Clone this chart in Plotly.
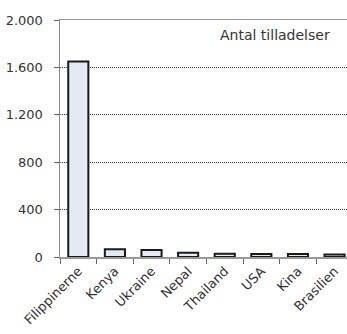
import plotly.graph_objects as go

countries = ["Filippinerne", "Kenya", "Ukraine", "Nepal", "Thailand", "USA", "Kina", "Brasilien"]
tilladelser = [1650, 65, 60, 35, 28, 26, 25, 22]
y_tickvals = [0, 400, 800, 1200, 1600, 2000]
y_ticktext = ["0", "400", "800", "1.200", "1.600", "2.000"]
legend_label = "Antal tilladelser"

FONT = "DejaVu Sans"

fig = go.Figure(
    go.Bar(
        x=countries,
        y=tilladelser,
        width=0.55,
        marker=dict(color="#E3EAF4", line=dict(color="#1a1a1a", width=2)),
        hoverinfo="skip",
    )
)

fig.add_annotation(
    text=legend_label, xref="paper", yref="paper", x=0.948, y=0.937,
    xanchor="right", yanchor="middle", showarrow=False,
    font=dict(family=FONT, size=14, color="#333333"),
)

fig.update_layout(
    width=347, height=334, autosize=False,
    margin=dict(l=60, r=0, t=20, b=77, pad=0),
    paper_bgcolor="white", plot_bgcolor="white",
    showlegend=False,
    font=dict(family=FONT, size=13, color="#333333"),
)

fig.update_xaxes(
    range=[-0.5, 7.34],
    automargin=False,
    tickangle=-45,
    tickson="boundaries",
    ticks="outside", ticklen=5, tickcolor="#666666", tickwidth=1,
    showline=True, linecolor="#999999", linewidth=1.5, mirror=True,
    showgrid=False,
    tickfont=dict(family=FONT, size=13, color="#333333"),
)

fig.update_yaxes(
    range=[0, 2000],
    automargin=False,
    tickvals=y_tickvals, ticktext=y_ticktext,
    ticks="outside", ticklen=5, tickcolor="#666666", tickwidth=1,
    showline=True, linecolor="#888888", linewidth=1.5,
    showgrid=True, gridcolor="#444444", gridwidth=1, griddash="1px,1px",
    zeroline=False,
    ticklabelstandoff=8,
    tickfont=dict(family=FONT, size=13, color="#333333"),
)

fig.write_html(
    "out.html",
    config={"displayModeBar": False, "staticPlot": True},
    post_script="document.body.style.margin='0';document.body.style.overflow='hidden';",
)
